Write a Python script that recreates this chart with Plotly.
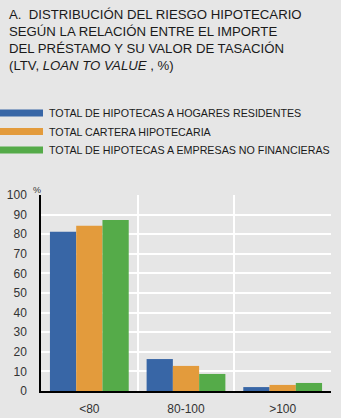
import plotly.graph_objects as go

categories = ["<80", "80-100", ">100"]
series_names = [
    "TOTAL DE HIPOTECAS A HOGARES RESIDENTES",
    "TOTAL CARTERA HIPOTECARIA",
    "TOTAL DE HIPOTECAS A EMPRESAS NO FINANCIERAS",
]
hogares = [81.2, 16.3, 2.0]
cartera = [84.3, 12.8, 3.1]
empresas = [87.3, 8.7, 4.1]
colors = ["#3866a6", "#e39b3c", "#55ab49"]
y_ticks = [0, 10, 20, 30, 40, 50, 60, 70, 80, 90, 100]

W, H = 341, 418
BG = "#e6e6e6"
FONT = "Liberation Sans, Arial, sans-serif"
PW, PH = 290, 196  # plot area size in px
Y0 = 391  # pixel row of plot bottom

def py(pix):
    return (Y0 - pix) / PH

def px(pix):
    return (pix - 41) / PW

fig = go.Figure()
xpos = list(range(len(categories)))
for name, vals, col in zip(series_names, [hogares, cartera, empresas], colors):
    fig.add_trace(go.Bar(x=xpos, y=vals, name=name, marker=dict(color=col, line=dict(width=0)),
                         showlegend=False))

annotations = [
    dict(text="A.  DISTRIBUCIÓN DEL RIESGO HIPOTECARIO<br>SEGÚN LA RELACIÓN ENTRE EL IMPORTE<br>"
              "DEL PRÉSTAMO Y SU VALOR DE TASACIÓN<br>(LTV, <i>LOAN TO VALUE</i> , %)",
         xref="paper", yref="paper", x=px(7), y=py(5),
         xanchor="left", yanchor="top", align="left", showarrow=False,
         font=dict(family=FONT, size=13.2, color="#1a1a1a")),
    dict(text="%", xref="paper", yref="paper", x=px(37), y=py(190), xanchor="center",
         yanchor="middle", showarrow=False, font=dict(family=FONT, size=9, color="#333")),
]
shapes = []
leg_y = [113, 131.5, 150]
for i, (name, col) in enumerate(zip(series_names, colors)):
    yc = py(leg_y[i])
    shapes.append(dict(type="rect", xref="paper", yref="paper",
                       x0=px(0), x1=px(43), y0=yc - 3.5 / PH, y1=yc + 3.5 / PH,
                       fillcolor=col, line=dict(width=0)))
    annotations.append(dict(text=name, xref="paper", yref="paper", x=px(47), y=yc,
                            xanchor="left", yanchor="middle", showarrow=False,
                            font=dict(family=FONT, size=10.7, color="#1a1a1a")))

fig.update_layout(
    width=W, height=H, autosize=False,
    paper_bgcolor=BG, plot_bgcolor=BG,
    margin=dict(l=41, r=10, t=195, b=27, pad=0),
    barmode="group", bargap=0.185, bargroupgap=0,
    annotations=annotations, shapes=shapes,
    font=dict(family=FONT, color="#333"),
    xaxis=dict(range=[-0.5, 2.5], tickvals=xpos, ticktext=categories, showgrid=False,
               showline=True, linecolor="#000", linewidth=1.5, ticks="", zeroline=False,
               tickfont=dict(size=12, color="#333"), ticklabelstandoff=6, automargin=False,
               minor=dict(tick0=0.5, dtick=1, showgrid=True, gridcolor="white", gridwidth=2, ticks="")),
    yaxis=dict(range=[0, 100], tickvals=y_ticks, showgrid=True, gridcolor="white", gridwidth=2,
               showline=True, linecolor="#000", linewidth=1.5, ticks="", zeroline=False,
               tickfont=dict(size=12, color="#333"), ticklabelstandoff=10, automargin=False),
)
fig.write_html("out.html")
